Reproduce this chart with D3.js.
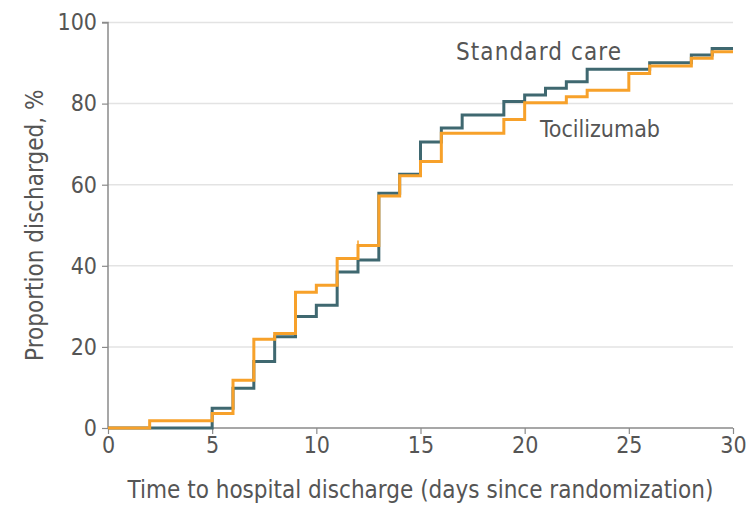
<!DOCTYPE html>
<html>
<head>
<meta charset="utf-8">
<script src="https://cdn.jsdelivr.net/npm/d3@7"></script>
<style>
html,body{margin:0;padding:0;background:#fff;}
svg{display:block;}
text{font-family:"DejaVu Sans Condensed","Liberation Sans Narrow",sans-serif;fill:#555;}
</style>
</head>
<body>
<svg id="chart" width="747" height="505"></svg>
<script>
// Data
const xTicks = [0, 5, 10, 15, 20, 25, 30];
const yTicks = [0, 20, 40, 60, 80, 100];
const seriesNames = ["Standard care", "Tocilizumab"];
const standardTimes  = [0, 5, 6, 7, 8, 9, 10, 11, 12, 13, 14, 15, 16, 17, 19, 20, 21, 22, 23, 26, 28, 29, 30];
const standardValues = [0, 4.9, 9.8, 16.4, 22.5, 27.5, 30.3, 38.5, 41.4, 57.9, 62.6, 70.5, 74.0, 77.2, 80.5, 82.1, 83.8, 85.4, 88.5, 90.1, 92.0, 93.6, 93.6];
const tociTimes  = [0, 2, 5, 6, 7, 8, 9, 10, 11, 12, 13, 14, 15, 16, 19, 20, 22, 23, 25, 26, 28, 29, 30];
const tociValues = [0, 1.8, 3.6, 11.8, 21.9, 23.3, 33.5, 35.2, 41.8, 45.0, 57.2, 62.2, 65.7, 72.7, 76.1, 80.2, 81.7, 83.3, 87.4, 89.3, 91.2, 92.8, 92.8];
const tociCensorTimes = [12];
const tociCensorValues = [45.0];

const svg = d3.select("#chart");
const margin = {left: 108, right: 14, top: 22.5, bottom: 77};
const W = 747, H = 505;
const x = d3.scaleLinear().domain([0, 30]).range([margin.left, W - margin.right]);
const y = d3.scaleLinear().domain([0, 100]).range([H - margin.bottom, margin.top]);

// gridlines
svg.append("g").selectAll("line").data(yTicks.filter(d => d > 0)).join("line")
  .attr("x1", x(0)).attr("x2", x(30))
  .attr("y1", d => y(d)).attr("y2", d => y(d))
  .attr("stroke", "#e3e3e3").attr("stroke-width", 1.5);

// axes
const xAxis = svg.append("g").attr("transform", `translate(0,${y(0)})`)
  .call(d3.axisBottom(x).tickValues(xTicks).tickSize(6).tickPadding(3));
const yAxis = svg.append("g").attr("transform", `translate(${x(0)},0)`)
  .call(d3.axisLeft(y).tickValues(yTicks).tickSize(6).tickPadding(5));
[xAxis, yAxis].forEach(g => {
  g.select(".domain").attr("stroke", "#8a8a8a").attr("stroke-width", 1.5);
  g.selectAll(".tick line").attr("stroke", "#8a8a8a").attr("stroke-width", 1.2);
  g.selectAll(".tick text").style("font-size", "23px").attr("fill", "#555");
});
yAxis.select(".domain").attr("d", `M-6,${y(100)}H0V${y(0)}`);
xAxis.select(".domain").attr("d", `M0,0H${x(30)-x(0)}`).attr("transform", `translate(${x(0)},0)`);

// lines
const line = d3.line().x(d => x(d[0])).y(d => y(d[1])).curve(d3.curveStepAfter);
const stdData = standardTimes.map((t, i) => [t, standardValues[i]]);
const tociData = tociTimes.map((t, i) => [t, tociValues[i]]);
svg.append("path").datum(stdData).attr("d", line)
  .attr("fill", "none").attr("stroke", "#3f6870").attr("stroke-width", 3);
svg.append("path").datum(tociData).attr("d", line)
  .attr("fill", "none").attr("stroke", "#f7a12a").attr("stroke-width", 3);

// censor marks
svg.append("g").selectAll("line").data(tociCensorTimes.map((t, i) => [t, tociCensorValues[i]])).join("line")
  .attr("x1", d => x(d[0])).attr("x2", d => x(d[0]))
  .attr("y1", d => y(d[1]) - 5).attr("y2", d => y(d[1]) + 5)
  .attr("stroke", "#f7a12a").attr("stroke-width", 1.5);

// series labels
svg.append("text").attr("x", 456).attr("y", 60).text(seriesNames[0])
  .style("font-size", "24px").style("letter-spacing", "1.1px").attr("fill", "#555");
svg.append("text").attr("x", 540).attr("y", 137).text(seriesNames[1])
  .style("font-size", "23px").attr("fill", "#555");

// axis titles
svg.append("text").attr("x", (x(0) + x(30)) / 2 + 0).attr("y", 498).attr("text-anchor", "middle")
  .style("font-size", "24px").text("Time to hospital discharge (days since randomization)");
svg.append("text").attr("transform", `translate(43,${(y(0) + y(100)) / 2}) rotate(-90)`)
  .attr("text-anchor", "middle").style("font-size", "24px").text("Proportion discharged, %");
</script>
</body>
</html>
